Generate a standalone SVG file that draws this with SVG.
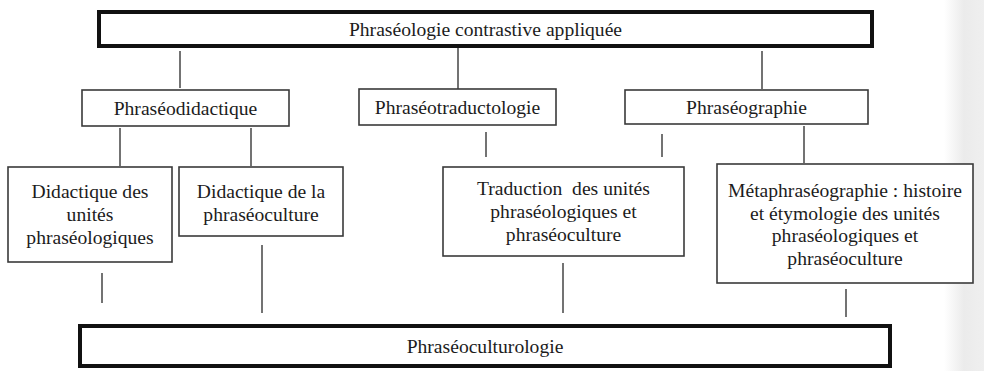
<svg xmlns="http://www.w3.org/2000/svg" width="984" height="371" viewBox="0 0 984 371">
<defs>
<linearGradient id="edge" x1="0" y1="0" x2="1" y2="0">
<stop offset="0" stop-color="#ffffff"/>
<stop offset="0.5" stop-color="#ebebeb"/>
<stop offset="1" stop-color="#efefef"/>
</linearGradient>
</defs>
<style>
text{font-family:"Liberation Serif","Times New Roman",serif;font-size:19.6px;fill:#1c1c1c;text-anchor:middle}
.thick{fill:#fff;stroke:#111;stroke-width:4}
.box{fill:#fff;stroke:#3a3a3a;stroke-width:1.6}
.conn line{stroke:#444;stroke-width:1.5}
</style>
<rect x="0" y="0" width="984" height="371" fill="#fff"/>
<rect x="944" y="0" width="40" height="371" fill="url(#edge)"/>
<g class="conn">
<line x1="180" y1="51" x2="180" y2="88"/>
<line x1="458" y1="48" x2="458" y2="89"/>
<line x1="762" y1="51" x2="762" y2="89"/>
<line x1="120" y1="128" x2="120" y2="166"/>
<line x1="251" y1="128" x2="251" y2="166"/>
<line x1="486" y1="132" x2="486" y2="157"/>
<line x1="662" y1="134" x2="662" y2="157"/>
<line x1="804" y1="126" x2="804" y2="163"/>
<line x1="102" y1="273" x2="102" y2="303"/>
<line x1="262" y1="245" x2="262" y2="313"/>
<line x1="563" y1="263" x2="563" y2="313"/>
<line x1="846" y1="289" x2="846" y2="317"/>
</g>
<g id="top">
<rect class="thick" x="99" y="12" width="773" height="34"/>
<text x="485.5" y="35.5">Phraséologie contrastive appliquée</text>
</g>
<g id="phraseodidactique">
<rect class="box" x="82" y="90" width="207" height="36"/>
<text x="185.5" y="114.5">Phraséodidactique</text>
</g>
<g id="phraseotraductologie">
<rect class="box" x="359" y="89" width="197" height="36"/>
<text x="457.5" y="113.5">Phraséotraductologie</text>
</g>
<g id="phraseographie">
<rect class="box" x="625" y="90" width="243" height="34"/>
<text x="746.5" y="113.5">Phraséographie</text>
</g>
<g id="didactique-unites">
<rect class="box" x="8" y="167" width="164" height="95"/>
<text x="90" y="198">Didactique des</text>
<text x="90" y="221">unités</text>
<text x="90" y="244">phraséologiques</text>
</g>
<g id="didactique-phraseoculture">
<rect class="box" x="179" y="167" width="164" height="69"/>
<text x="261" y="198">Didactique de la</text>
<text x="261" y="221">phraséoculture</text>
</g>
<g id="traduction">
<rect class="box" x="443" y="167" width="241" height="89"/>
<text x="563.5" y="195" xml:space="preserve">Traduction  des unités</text>
<text x="563.5" y="218">phraséologiques et</text>
<text x="563.5" y="241">phraséoculture</text>
</g>
<g id="metaphraseographie">
<rect class="box" x="717" y="164" width="256" height="119"/>
<text x="845" y="197">Métaphraséographie : histoire</text>
<text x="845" y="219.5">et étymologie des unités</text>
<text x="845" y="242">phraséologiques et</text>
<text x="845" y="264.5">phraséoculture</text>
</g>
<g id="bottom">
<rect class="thick" x="80" y="326" width="810" height="40"/>
<text x="485" y="352.5">Phraséoculturologie</text>
</g>
</svg>
